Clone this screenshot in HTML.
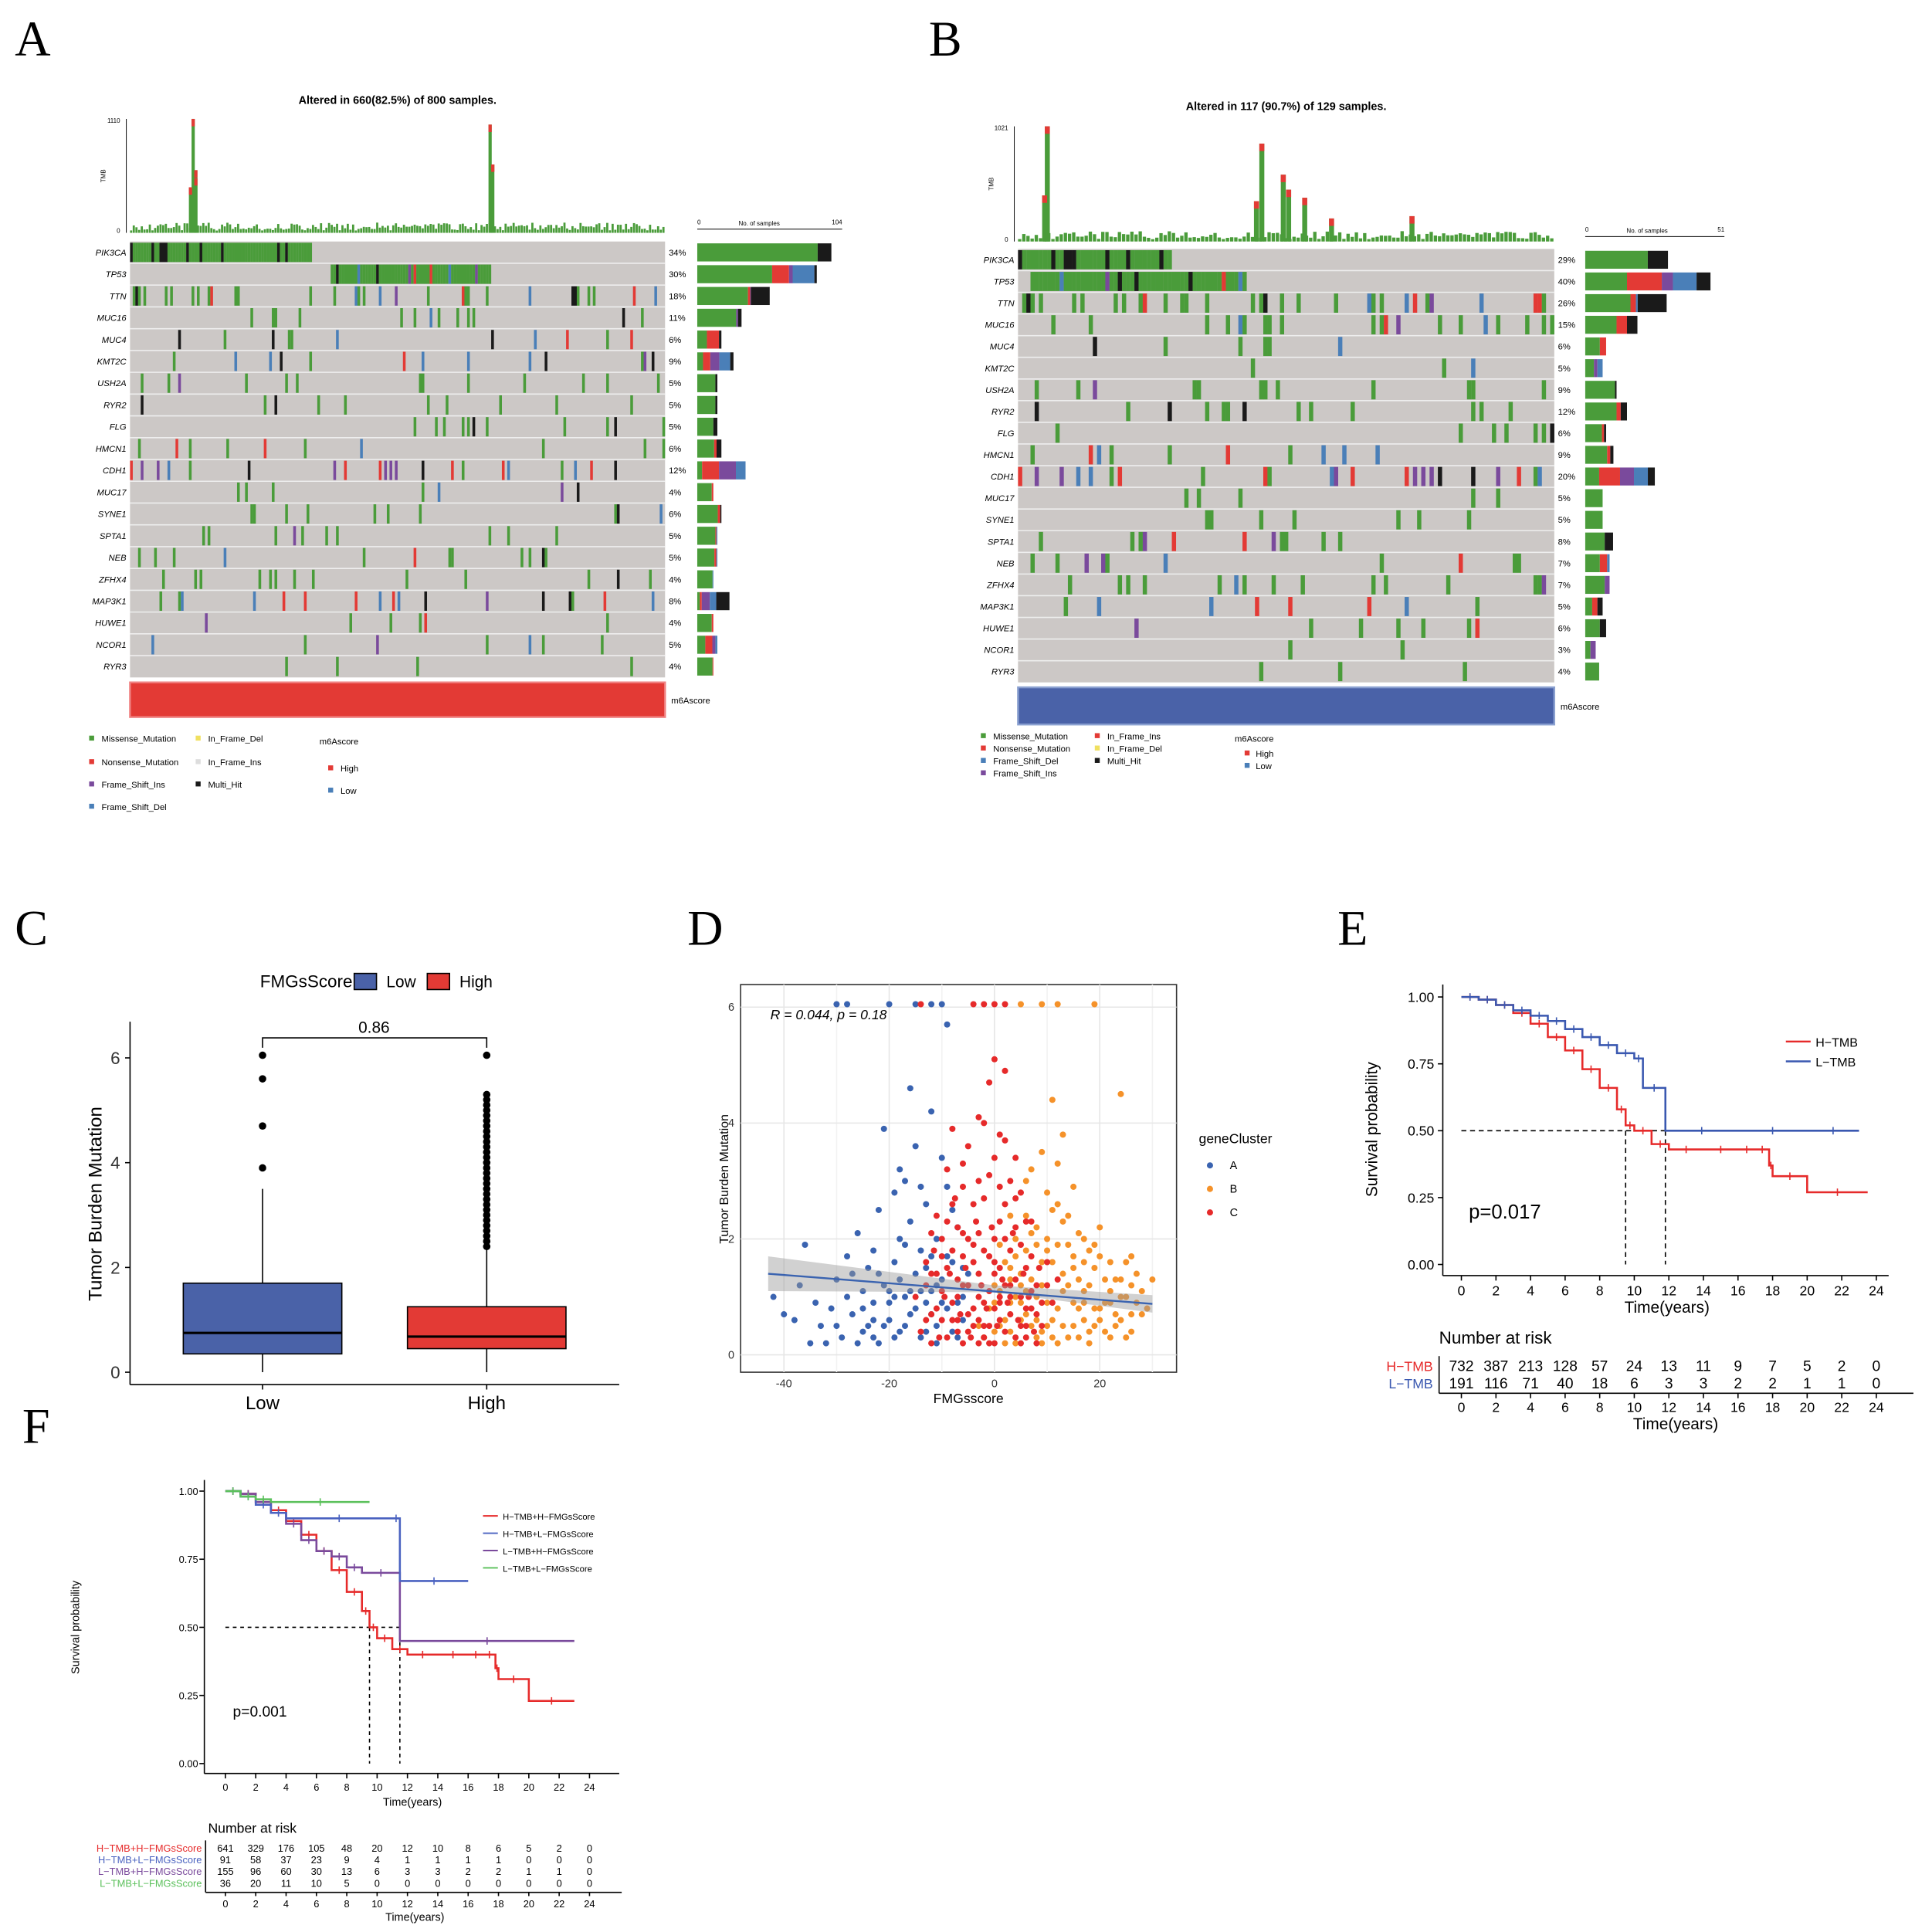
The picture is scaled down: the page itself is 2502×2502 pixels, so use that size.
<!DOCTYPE html>
<html><head><meta charset="utf-8">
<style>
html,body{margin:0;padding:0;background:#fff;}
svg{display:block;font-family:"Liberation Sans",sans-serif;}
.pl{font-family:"Liberation Serif",serif;font-size:40px;}
</style></head>
<body>
<svg id="fig" width="2502" height="2502" viewBox="0 0 1560 1560" xmlns="http://www.w3.org/2000/svg">
<text class="pl" x="12" y="45">A</text>
<text class="pl" x="750" y="45">B</text>
<text class="pl" x="12" y="763">C</text>
<text class="pl" x="555" y="763">D</text>
<text class="pl" x="1080" y="763">E</text>
<text class="pl" x="18" y="1165">F</text>
<g id="gA"></g>
<g id="gB"></g>
<g id="gC"></g>
<g id="gD"></g>
<g id="gE"></g>
<g id="gF"></g>
</svg>
<script>
const NS="http://www.w3.org/2000/svg";
function mk(p,tag,at,txt){const e=document.createElementNS(NS,tag);for(const k in at)e.setAttribute(k,at[k]);if(txt!==undefined)e.textContent=txt;p.appendChild(e);return e;}

// ===== Oncoplot data =====
const genesA=["PIK3CA","TP53","TTN","MUC16","MUC4","KMT2C","USH2A","RYR2","FLG","HMCN1","CDH1","MUC17","SYNE1","SPTA1","NEB","ZFHX4","MAP3K1","HUWE1","NCOR1","RYR3"];
const pctA=[34,30,18,11,6,9,5,5,5,6,12,4,6,5,5,4,8,4,5,4];
const genesB=["PIK3CA","TP53","TTN","MUC16","MUC4","KMT2C","USH2A","RYR2","FLG","HMCN1","CDH1","MUC17","SYNE1","SPTA1","NEB","ZFHX4","MAP3K1","HUWE1","NCOR1","RYR3"];
const pctB=[29,40,26,15,6,5,9,12,6,9,20,5,5,8,7,7,5,6,3,4];
const COL={g:"#4a9c3a",r:"#e33a35",b:"#4a7fb8",p:"#7a4a9c",k:"#1a1a1a",y:"#f0e060"};
const compA=[[.88,0,0,0,.1],[.62,.14,.03,.18,.02],[.7,.03,.01,0,.26],[.88,0,.04,0,.08],[.4,.5,0,0,.1],[.16,.2,.25,.3,.09],[.9,0,0,0,.1],[.9,0,0,0,.1],[.8,0,0,0,.2],[.7,.1,0,0,.2],[.1,.35,.35,.2,0],[.9,.1,0,0,0],[.85,.1,0,0,.05],[.9,.05,0,.05,0],[.85,.1,0,.05,0],[.95,0,0,.05,0],[.08,.06,.25,.2,.41],[.9,.1,0,0,0],[.4,.35,.15,.1,0],[.95,.05,0,0,0]];
const compB=[[.62,0,0,0,.2],[.3,.25,.08,.17,.1],[.5,.06,0,.02,.32],[.6,.2,0,0,.2],[.7,.3,0,0,0],[.5,0,.2,.3,0],[.95,0,0,0,.05],[.75,.1,0,0,.15],[.8,.1,0,0,.1],[.7,.1,0,0,.1],[.2,.3,.2,.2,.1],[1,0,0,0,0],[1,0,0,0,0],[.7,0,0,0,.3],[.6,.3,0,.1,0],[.8,0,.2,0,0],[.4,.3,0,0,.3],[.7,0,0,0,.3],[.5,0,.5,0,0],[1,0,0,0,0]];
const tmbSpikesA=[[0.115,100],[0.12,55],[0.11,40],[0.67,95],[0.675,60],[0.12,48]];
const tmbSpikesB=[[0.05,100],[0.045,40],[0.45,85],[0.49,58],[0.5,45],[0.44,35],[0.53,38],[0.58,20],[0.73,22]];

function hsh(a,b){let x=(a*73856093)^(b*19349663);x=(x^(x>>>13))*1274126177;x=x^(x>>>16);return ((x>>>0)%10000)/10000;}

function onco(gid,genes,pct,comp,o){
 const g=document.getElementById(gid);
 const ncol=o.ncol,cw=(o.x1-o.x0)/ncol,rh=(o.y1-o.y0)/genes.length;
 mk(g,"text",{x:(o.x0+o.x1)/2,y:o.ty,"font-size":9,"font-weight":"bold","text-anchor":"middle"},o.title);
 mk(g,"line",{x1:o.x0-3,y1:o.tb0,x2:o.x0-3,y2:o.tb1,stroke:"#000","stroke-width":.6});
 mk(g,"text",{x:o.x0-8,y:o.tb0+3,"font-size":5,"text-anchor":"end"},o.tmax);
 mk(g,"text",{x:o.x0-8,y:o.tb1,"font-size":5,"text-anchor":"end"},"0");
 mk(g,"text",{x:o.x0-20,y:(o.tb0+o.tb1)/2,"font-size":5,transform:`rotate(-90 ${o.x0-20} ${(o.tb0+o.tb1)/2})`,"text-anchor":"middle"},"TMB");
 const th=o.tb1-o.tb0;
 for(let j=0;j<ncol;j++){
  const h=th*(0.02+0.07*hsh(j,99));
  mk(g,"rect",{x:o.x0+j*cw,y:o.tb1-h,width:cw*0.8,height:h,fill:COL.g});
 }
 o.spikes.forEach(s=>{
  const h=th*s[1]/100;const sp=mk(g,"rect",{x:o.x0+s[0]*(o.x1-o.x0),y:o.tb1-h,width:cw*1.2,height:h,fill:COL.g});
  
  mk(g,"rect",{x:o.x0+s[0]*(o.x1-o.x0),y:o.tb1-h,width:cw*1.2,height:Math.min(6,h),fill:COL.r});
 });
 mk(g,"rect",{x:o.x0,y:o.y0,width:o.x1-o.x0,height:o.y1-o.y0,fill:"#ccc8c6"});
 genes.forEach((gn,i)=>{
  const y=o.y0+i*rh;
  const f=pct[i]/100;
  const cols=["g","g","g","g","r","b","p","k","g","g"];
  for(let j=0;j<ncol;j++){
   let on=false,c="g";
   if(i<2){const s=i==0?0:o.blk;const e=s+Math.round(f*ncol);on=j>=s&&j<e;c=hsh(i,j)<0.2?(i==0?"k":cols[Math.floor(hsh(j,i)*10)]):"g";}
   else {on=hsh(i+7,j+3)<f*0.9;c=hsh(j,i+5)<comp[i][0]?"g":cols[4+Math.floor(hsh(i,j+11)*4)];}
   if(on){const r=mk(g,"rect",{x:o.x0+j*cw,y:y+1,width:cw*1.02,height:rh-2,fill:COL[c]});
    
    }
  }
  if(i>0)mk(g,"line",{x1:o.x0,y1:y,x2:o.x1,y2:y,stroke:"#eee","stroke-width":1});
  const lab=mk(g,"text",{x:o.x0-3,y:y+rh/2+2.5,"font-size":7,"font-style":"italic","text-anchor":"end"},gn);
  
  
  mk(g,"text",{x:o.x1+3,y:y+rh/2+2.5,"font-size":7},pct[i]+"%");
  let bx=o.sx0;const bw=(o.sx1-o.sx0)*pct[i]/o.pmax;
  ["g","r","p","b","k"].forEach((k,q)=>{const w=bw*comp[i][q];if(w>0){const b=mk(g,"rect",{x:bx,y:y+1.5,width:w,height:rh-3,fill:COL[k]});
   
   bx+=w;}});
 });
 mk(g,"line",{x1:o.sx0,y1:o.y0-10,x2:o.sx0+(o.sx1-o.sx0)*o.axmax/o.pmax,y2:o.y0-10,stroke:"#000","stroke-width":.6});
 mk(g,"text",{x:o.sx0,y:o.y0-14,"font-size":5},"0");
 mk(g,"text",{x:o.sx0+(o.sx1-o.sx0)*o.axmax/o.pmax,y:o.y0-14,"font-size":5,"text-anchor":"end"},o.axlab);
 mk(g,"text",{x:o.sx0+50,y:o.y0-13,"font-size":5,"text-anchor":"middle"},"No. of samples");
 const sb=mk(g,"rect",{x:o.x0,y:o.y1+4,width:o.x1-o.x0,height:o.sbh,fill:o.sbc,stroke:o.sbc==="#e33a35"?"#f08080":"#8aa0d0","stroke-width":1.5});
 
 mk(g,"text",{x:o.x1+5,y:o.y1+4+o.sbh/2+3,"font-size":7},"m6Ascore");
}
onco("gA",genesA,pctA,compA,{x0:105,x1:537,y0:195,y1:547,ncol:200,blk:75,title:"Altered in 660(82.5%) of 800 samples.",ty:84,tb0:96,tb1:188,tmax:"1110",spikes:tmbSpikesA,sx0:563,sx1:680,pmax:36,axmax:36,axlab:"104",sbh:28,sbc:"#e33a35"});
onco("gB",genesB,pctB,compB,{x0:822,x1:1255,y0:201,y1:551,ncol:129,blk:3,title:"Altered in 117 (90.7%) of 129 samples.",ty:89,tb0:102,tb1:195,tmax:"1021",spikes:tmbSpikesB,sx0:1280,sx1:1398,pmax:42,axmax:40,axlab:"51",sbh:30,sbc:"#4a62a8"});

(function(){
 const g=document.getElementById("gA");
 const L=[["Missense_Mutation",COL.g,72,598],["Nonsense_Mutation",COL.r,72,617],["Frame_Shift_Ins",COL.p,72,635],["Frame_Shift_Del",COL.b,72,653],["In_Frame_Del",COL.y,158,598],["In_Frame_Ins","#ddd",158,617],["Multi_Hit",COL.k,158,635]];
 L.forEach(l=>{const e=mk(g,"rect",{x:l[2],y:l[3]-4,width:4,height:4,fill:l[1]});mk(g,"text",{x:l[2]+10,y:l[3]+1,"font-size":7},l[0]);});
 mk(g,"text",{x:258,y:601,"font-size":7},"m6Ascore");
 mk(g,"rect",{x:265,y:618,width:4,height:4,fill:COL.r});mk(g,"text",{x:275,y:623,"font-size":7},"High");
 mk(g,"rect",{x:265,y:636,width:4,height:4,fill:COL.b});mk(g,"text",{x:275,y:641,"font-size":7},"Low");
 const h=document.getElementById("gB");
 const M=[["Missense_Mutation",COL.g,792,596],["Nonsense_Mutation",COL.r,792,606],["Frame_Shift_Del",COL.b,792,616],["Frame_Shift_Ins",COL.p,792,626],["In_Frame_Ins",COL.r,884,596],["In_Frame_Del",COL.y,884,606],["Multi_Hit",COL.k,884,616]];
 M.forEach(l=>{const e=mk(h,"rect",{x:l[2],y:l[3]-4,width:4,height:4,fill:l[1]});mk(h,"text",{x:l[2]+10,y:l[3]+1,"font-size":7},l[0]);});
 mk(h,"text",{x:997,y:599,"font-size":7},"m6Ascore");
 mk(h,"rect",{x:1005,y:606,width:4,height:4,fill:COL.r});mk(h,"text",{x:1014,y:611,"font-size":7},"High");
 mk(h,"rect",{x:1005,y:616,width:4,height:4,fill:COL.b});mk(h,"text",{x:1014,y:621,"font-size":7},"Low");
})();

// ===== Panel C boxplot =====
const boxCats=["Low","High"];
const boxQ1=[0.35,0.45], boxMed=[0.75,0.68], boxQ3=[1.7,1.25], boxWlo=[0,0], boxWhi=[3.5,2.35];
const outLow=[3.9,4.7,5.6,6.05];
const outHigh=[2.4,2.5,2.6,2.7,2.8,2.9,3.0,3.1,3.2,3.3,3.4,3.5,3.6,3.7,3.8,3.9,4.0,4.1,4.2,4.3,4.4,4.5,4.6,4.7,4.8,4.9,5.0,5.1,5.2,5.3,6.05];
const pC="0.86";
(function(){
 const g=document.getElementById("gC");
 const X0=105,X1=500,Y0=825,Y1=1118;
 const ys=v=>1108-v*42.3, xs=i=>[212,393][i];
 mk(g,"line",{x1:X0,y1:Y0,x2:X0,y2:Y1,stroke:"#000","stroke-width":1});
 mk(g,"line",{x1:X0,y1:Y1,x2:X1,y2:Y1,stroke:"#000","stroke-width":1});
 [0,2,4,6].forEach(t=>{mk(g,"line",{x1:X0-4,y1:ys(t),x2:X0,y2:ys(t),stroke:"#000"});mk(g,"text",{x:X0-8,y:ys(t)+5,"font-size":14,"text-anchor":"end",fill:"#333"},t);});
 mk(g,"text",{x:82,y:972,"font-size":15,"text-anchor":"middle",transform:"rotate(-90 82 972)"},"Tumor Burden Mutation");
 const fills=["#4a62a8","#e33a35"];
 boxCats.forEach((c,i)=>{
  const x=xs(i);
  mk(g,"line",{x1:x,y1:ys(boxWhi[i]),x2:x,y2:ys(boxWlo[i]),stroke:"#000"});
  const b=mk(g,"rect",{x:x-64,y:ys(boxQ3[i]),width:128,height:ys(boxQ1[i])-ys(boxQ3[i]),fill:fills[i],stroke:"#000","stroke-width":1});
  
  
  mk(g,"line",{x1:x-64,y1:ys(boxMed[i]),x2:x+64,y2:ys(boxMed[i]),stroke:"#000","stroke-width":2});
  (i?outHigh:outLow).forEach(v=>{const d=mk(g,"circle",{cx:x,cy:ys(v),r:3,fill:"#000"});});
  mk(g,"line",{x1:x,y1:Y1,x2:x,y2:Y1+4,stroke:"#000"});
  mk(g,"text",{x:x,y:1138,"font-size":15,"text-anchor":"middle"},c);
 });
 mk(g,"path",{d:`M212 846 V838 H393 V846`,fill:"none",stroke:"#000"});
 mk(g,"text",{x:302,y:834,"font-size":13,"text-anchor":"middle"},pC);
 mk(g,"text",{x:210,y:797,"font-size":14},"FMGsScore");
 mk(g,"rect",{x:286,y:786,width:18,height:13,fill:"#4a62a8",stroke:"#000"});mk(g,"text",{x:312,y:797,"font-size":13},"Low");
 mk(g,"rect",{x:345,y:786,width:18,height:13,fill:"#e33a35",stroke:"#000"});mk(g,"text",{x:371,y:797,"font-size":13},"High");
})();

// ===== Panel D scatter =====
const ptsA=[[-42,1.0],[-38,0.6],[-36,1.9],[-35,0.2],[-33,0.5],[-31,0.8],[-30,1.3],[-29,0.3],[-28,1.0],[-27,0.7],[-26,2.1],[-25,0.4],[-24,1.5],[-23,0.9],[-22,0.2],[-21,3.9],[-21,1.2],[-20,0.6],[-19,2.8],[-19,1.6],[-18,0.4],[-18,3.2],[-17,1.0],[-16,2.3],[-16,0.7],[-15,1.4],[-15,3.6],[-14,0.3],[-14,1.8],[-13,2.6],[-13,0.9],[-12,4.2],[-12,1.1],[-11,0.5],[-11,2.0],[-10,1.3],[-10,3.4],[-9,0.8],[-9,5.7],[-8,1.6],[-8,0.4],[-7,2.2],[-6,1.0],[-6,0.6],[-5,1.4],[-20,0.9],[-24,0.5],[-30,6.05],[-28,6.05],[-20,6.05],[-15,6.05],[-12,6.05],[-10,6.05],[-16,4.6],[-26,0.2],[-17,1.9],[-22,1.4],[-14,1.1],[-19,0.3],[-23,1.8],[-25,1.1],[-9,1.7],[-11,0.2],[-13,1.5],[-7,0.9],[-18,1.3],[-16,1.1],[-12,0.7],[-21,0.5],[-8,2.5],
[-40,0.7],[-37,1.2],[-34,0.9],[-32,0.2],[-30,0.5],[-27,1.4],[-25,0.8],[-23,0.3],[-22,2.5],[-20,1.1],[-18,2.0],[-17,0.5],[-15,0.8],[-13,0.4],[-12,1.7],[-10,0.9],[-9,2.9],[-7,0.3],[-6,1.5],[-14,2.9],[-17,3.0],[-11,1.2],[-23,0.6],[-28,1.7],[-19,1.0]];
const ptsB=[[-2,0.3],[-1,0.8],[0,1.2],[1,0.5],[2,1.6],[3,0.9],[4,0.2],[5,1.4],[6,0.7],[7,2.1],[8,1.0],[9,0.4],[10,1.8],[11,0.6],[12,2.6],[13,1.1],[14,0.3],[15,1.5],[16,0.8],[17,2.0],[18,1.2],[19,0.5],[20,1.7],[21,0.9],[22,0.3],[23,1.3],[24,0.6],[25,1.0],[26,0.4],[27,0.9],[30,1.3],[28,0.7],[3,2.4],[6,3.0],[9,3.5],[11,4.4],[12,3.3],[15,2.9],[24,4.5],[5,0.6],[8,0.3],[10,0.9],[13,0.5],[16,1.3],[18,0.4],[20,0.8],[22,1.1],[7,1.3],[4,1.0],[2,0.6],[14,1.9],[17,0.6],[19,1.5],[21,0.4],[1,1.9],[-3,0.5],[0,0.4],[6,1.8],[12,0.2],[9,1.2],[15,0.9],[23,0.7],[25,1.6],[11,1.6],[8,2.2],[13,2.3],[26,1.2],[5,6.05],[9,6.05],[12,6.05],[19,6.05],[3,1.5],[17,1.6],[10,0.5],
[0,0.9],[2,0.2],[4,1.7],[6,1.1],[8,0.6],[10,2.0],[12,0.8],[14,1.2],[16,0.3],[18,1.8],[20,0.6],[22,1.6],[24,1.0],[26,0.7],[28,1.1],[1,1.1],[3,0.4],[5,1.2],[7,0.5],[9,1.6],[11,0.3],[13,1.4],[15,0.5],[17,1.1],[19,0.8],[21,1.3],[23,0.5],[25,0.3],[27,1.4],[29,0.8],[6,2.4],[10,2.8],[14,2.4],[8,1.9],[12,1.9],[16,2.1],[20,2.2],[4,2.0],[18,0.2],[22,0.9],[7,3.2],[13,3.8],[11,2.5],[15,1.7],[9,0.2],[17,0.9],[19,1.9],[5,0.9],[3,1.3],[24,1.3],[26,1.7]];
const ptsC=[[-15,1.0],[-14,0.4],[-13,1.6],[-12,0.7],[-11,2.4],[-10,1.1],[-9,0.3],[-8,1.8],[-7,0.6],[-6,2.9],[-5,1.2],[-4,0.5],[-3,2.1],[-2,0.9],[-1,3.1],[0,1.4],[1,0.6],[2,2.6],[3,1.0],[4,0.3],[5,1.9],[6,0.8],[7,2.3],[8,1.2],[9,0.5],[10,1.6],[11,0.9],[12,1.3],[-5,3.6],[-3,4.1],[0,5.1],[2,4.9],[4,3.4],[-8,3.9],[-1,4.7],[1,3.8],[-6,0.2],[-4,1.6],[-2,0.3],[0,2.0],[2,1.2],[4,2.2],[-10,2.0],[-12,1.4],[-7,1.3],[-3,1.0],[-1,1.7],[1,1.0],[3,1.8],[5,0.5],[7,1.1],[-9,1.5],[-5,0.7],[-2,2.7],[3,3.0],[6,1.5],[8,0.7],[-11,0.8],[-13,1.2],[-4,2.6],[0,0.2],[5,2.8],[-6,1.7],[-14,6.05],[-4,6.05],[-2,6.05],[0,6.05],[2,6.05],[-8,2.6],[-1,0.5],[1,2.3],[6,0.3],[-7,2.2],[-3,0.6],
[-12,0.2],[-11,1.4],[-10,0.6],[-9,2.3],[-8,0.9],[-7,0.4],[-6,1.2],[-5,2.0],[-4,0.8],[-3,1.4],[-2,0.5],[-1,1.1],[0,0.8],[1,1.5],[2,0.4],[3,0.7],[4,1.3],[5,1.0],[6,0.5],[7,1.7],[8,0.2],[9,0.9],[10,1.2],[-11.5,1.8],[-10.5,0.3],[-9.5,1.0],[-8.5,1.4],[-7.5,2.7],[-6.5,0.7],[-5.5,1.5],[-4.5,0.3],[-3.5,2.3],[-2.5,1.2],[-1.5,0.8],[-0.5,2.2],[0.5,0.5],[1.5,1.3],[2.5,0.9],[3.5,2.1],[4.5,0.6],[5.5,1.4],[6.5,1.0],[7.5,0.4],[8.5,1.5],[-6,3.3],[-3,3.0],[1,2.9],[4,2.7],[-9,3.2],[0,3.4],[-7,1.0],[-5,0.4],[-2,1.8],[2,2.0],[-4,1.9],[3,1.2],[-1,0.2],[5,0.2],[-8,0.6],[6,2.3],[-10,1.7],[-12,2.1],[-13,0.6],[7,0.8],[-3,0.2],[1,0.9],[-6,2.1],[0,1.6],[2,3.7],[-2,4.0]];
const regX=[-43,30], regY=[1.4,0.88];
const corText="R = 0.044, p = 0.18";
(function(){
 const g=document.getElementById("gD");
 const X0=598,X1=950,Y0=795,Y1=1108;
 const xs=v=>633+(v+40)*4.25, ys=v=>1094-v*46.8;
 mk(g,"rect",{x:X0,y:Y0,width:X1-X0,height:Y1-Y0,fill:"#fff",stroke:"#333","stroke-width":1});
 [-40,-20,0,20].forEach(t=>{mk(g,"line",{x1:xs(t),y1:Y0,x2:xs(t),y2:Y1,stroke:"#e6e6e6"});mk(g,"text",{x:xs(t),y:Y1+12,"font-size":9,"text-anchor":"middle",fill:"#333"},t);});
 [-30,-10,10,30].forEach(t=>mk(g,"line",{x1:xs(t),y1:Y0,x2:xs(t),y2:Y1,stroke:"#f2f2f2"}));
 [0,2,4,6].forEach(t=>{mk(g,"line",{x1:X0,y1:ys(t),x2:X1,y2:ys(t),stroke:"#e6e6e6"});mk(g,"text",{x:X0-5,y:ys(t)+3,"font-size":9,"text-anchor":"end",fill:"#333"},t);});
 mk(g,"text",{x:588,y:952,"font-size":10,"text-anchor":"middle",transform:"rotate(-90 588 952)"},"Tumor Burden Mutation");
 mk(g,"text",{x:782,y:1133,"font-size":11,"text-anchor":"middle"},"FMGsscore");
 [[ptsB,"#f5922a"],[ptsA,"#3a63b0"],[ptsC,"#e62a2a"]].forEach(s=>s[0].forEach(p=>{const c=mk(g,"circle",{cx:xs(p[0]),cy:ys(p[1]),r:2.5,fill:s[1]});}));
 const x0=xs(regX[0]),x1=xs(regX[1]);
 mk(g,"path",{d:`M${x0} ${ys(regY[0]+0.3)} L${xs(0)} ${ys(1.14+0.06)} L${x1} ${ys(regY[1]+0.15)} L${x1} ${ys(regY[1]-0.15)} L${xs(0)} ${ys(1.14-0.06)} L${x0} ${ys(regY[0]-0.3)}Z`,fill:"#999","fill-opacity":0.45});
 mk(g,"line",{x1:x0,y1:ys(regY[0]),x2:x1,y2:ys(regY[1]),stroke:"#3a63b0","stroke-width":1.5});
 mk(g,"text",{x:622,y:823,"font-size":11,"font-style":"italic"},corText);
 mk(g,"text",{x:968,y:923,"font-size":11},"geneCluster");
 [["A","#3a63b0",941],["B","#f5922a",960],["C","#e62a2a",979]].forEach(l=>{mk(g,"circle",{cx:977,cy:l[2],r:2.5,fill:l[1]});mk(g,"text",{x:993,y:l[2]+3,"font-size":9},l[0]);});
})();

// ===== KM curves =====
const timeE_H=[0,1,2,3,4,5,6,7,8,9,9.5,10,11,12,14,16,17,17.8,18,20,23.5];
const survE_H=[1,0.99,0.97,0.94,0.9,0.85,0.8,0.73,0.66,0.58,0.52,0.5,0.45,0.43,0.43,0.43,0.43,0.37,0.33,0.27,0.27];
const timeE_L=[0,1,2,3,4,5,6,7,8,9,10,10.5,11.8,16,20,23];
const survE_L=[1,0.99,0.97,0.95,0.93,0.91,0.88,0.85,0.82,0.79,0.77,0.66,0.5,0.5,0.5,0.5];
const riskE_H=[732,387,213,128,57,24,13,11,9,7,5,2,0];
const riskE_L=[191,116,71,40,18,6,3,3,2,2,1,1,0];
const timeF1=[0,1,2,3,4,5,6,7,8,9,9.5,10,11,12,14,16,17,17.8,18,20,23];
const survF1=[1,0.99,0.96,0.93,0.89,0.84,0.78,0.71,0.63,0.56,0.5,0.46,0.42,0.4,0.4,0.4,0.4,0.35,0.31,0.23,0.23];
const timeF2=[0,1,2,3,4,11,11.5,16];
const survF2=[1,0.98,0.95,0.92,0.9,0.9,0.67,0.67];
const timeF3=[0,1,2,3,4,5,6,7,8,9,11.5,23];
const survF3=[1,0.99,0.96,0.92,0.88,0.82,0.78,0.76,0.72,0.7,0.45,0.45];
const timeF4=[0,1,2,3,9.5];
const survF4=[1,0.98,0.97,0.96,0.96];
const riskF=[[641,329,176,105,48,20,12,10,8,6,5,2,0],[91,58,37,23,9,4,1,1,1,1,0,0,0],[155,96,60,30,13,6,3,3,2,2,1,1,0],[36,20,11,10,5,0,0,0,0,0,0,0,0]];
function km(g,xs,ys,t,s,col,name){
 let d=`M${xs(t[0])} ${ys(s[0])}`;
 for(let i=1;i<t.length;i++)d+=` H${xs(t[i])} V${ys(s[i])}`;
 const p=mk(g,"path",{d:d,fill:"none",stroke:col,"stroke-width":1.6});
 
 
 for(let i=1;i<t.length;i++){const c=xs((t[i-1]+t[i])/2),y=ys(s[i-1]);mk(g,"line",{x1:c,y1:y-3,x2:c,y2:y+3,stroke:col,"stroke-width":1});}
}
(function(){
 const g=document.getElementById("gE");
 const xs=v=>1180+v*13.96, ys=v=>1021-v*216;
 mk(g,"line",{x1:1165,y1:795,x2:1165,y2:1030,stroke:"#000"});
 mk(g,"line",{x1:1165,y1:1030,x2:1525,y2:1030,stroke:"#000"});
 [0,0.25,0.5,0.75,1].forEach(v=>{mk(g,"line",{x1:1161,y1:ys(v),x2:1165,y2:ys(v),stroke:"#000"});mk(g,"text",{x:1158,y:ys(v)+4,"font-size":11,"text-anchor":"end"},v.toFixed(2));});
 for(let t=0;t<=24;t+=2){mk(g,"line",{x1:xs(t),y1:1030,x2:xs(t),y2:1034,stroke:"#000"});mk(g,"text",{x:xs(t),y:1046,"font-size":11,"text-anchor":"middle"},t);}
 mk(g,"text",{x:1346,y:1060,"font-size":13,"text-anchor":"middle"},"Time(years)");
 mk(g,"text",{x:1112,y:912,"font-size":13,"text-anchor":"middle",transform:"rotate(-90 1112 912)"},"Survival probability");
 mk(g,"path",{d:`M${xs(0)} ${ys(.5)} H${xs(11.8)} M${xs(9.5)} ${ys(.5)} V${ys(0)} M${xs(11.8)} ${ys(.5)} V${ys(0)}`,stroke:"#000","stroke-dasharray":"4 3",fill:"none"});
 km(g,xs,ys,timeE_H,survE_H,"#e62a2a","km-h-tmb");
 km(g,xs,ys,timeE_L,survE_L,"#3a58b0","km-l-tmb");
 mk(g,"text",{x:1186,y:984,"font-size":16},"p=0.017");
 mk(g,"line",{x1:1442,y1:841,x2:1462,y2:841,stroke:"#e62a2a","stroke-width":1.5});mk(g,"text",{x:1466,y:845,"font-size":10},"H−TMB");
 mk(g,"line",{x1:1442,y1:857,x2:1462,y2:857,stroke:"#3a58b0","stroke-width":1.5});mk(g,"text",{x:1466,y:861,"font-size":10},"L−TMB");
 mk(g,"text",{x:1162,y:1085,"font-size":14},"Number at risk");
 mk(g,"text",{x:1157,y:1107,"font-size":11,"text-anchor":"end",fill:"#e62a2a"},"H−TMB");
 mk(g,"text",{x:1157,y:1121,"font-size":11,"text-anchor":"end",fill:"#3a58b0"},"L−TMB");
 mk(g,"line",{x1:1162,y1:1095,x2:1162,y2:1125,stroke:"#000"});
 mk(g,"line",{x1:1162,y1:1125,x2:1545,y2:1125,stroke:"#000"});
 riskE_H.forEach((v,i)=>mk(g,"text",{x:xs(i*2),y:1107,"font-size":12,"text-anchor":"middle"},v));
 riskE_L.forEach((v,i)=>mk(g,"text",{x:xs(i*2),y:1121,"font-size":12,"text-anchor":"middle"},v));
 for(let t=0;t<=24;t+=2){mk(g,"line",{x1:xs(t),y1:1125,x2:xs(t),y2:1129,stroke:"#000"});mk(g,"text",{x:xs(t),y:1140,"font-size":11,"text-anchor":"middle"},t);}
 mk(g,"text",{x:1353,y:1154,"font-size":13,"text-anchor":"middle"},"Time(years)");
})();
(function(){
 const g=document.getElementById("gF");
 const xs=v=>182+v*12.25, ys=v=>1424-v*220;
 mk(g,"line",{x1:165,y1:1195,x2:165,y2:1432,stroke:"#000"});
 mk(g,"line",{x1:165,y1:1432,x2:500,y2:1432,stroke:"#000"});
 [0,0.25,0.5,0.75,1].forEach(v=>{mk(g,"line",{x1:161,y1:ys(v),x2:165,y2:ys(v),stroke:"#000"});mk(g,"text",{x:160,y:ys(v)+3,"font-size":8,"text-anchor":"end"},v.toFixed(2));});
 for(let t=0;t<=24;t+=2){mk(g,"line",{x1:xs(t),y1:1432,x2:xs(t),y2:1436,stroke:"#000"});mk(g,"text",{x:xs(t),y:1446,"font-size":8,"text-anchor":"middle"},t);}
 mk(g,"text",{x:333,y:1458,"font-size":9,"text-anchor":"middle"},"Time(years)");
 mk(g,"text",{x:64,y:1314,"font-size":9,"text-anchor":"middle",transform:"rotate(-90 64 1314)"},"Survival probability");
 mk(g,"path",{d:`M${xs(0)} ${ys(.5)} H${xs(11.5)} M${xs(9.5)} ${ys(.5)} V${ys(0)} M${xs(11.5)} ${ys(.5)} V${ys(0)}`,stroke:"#000","stroke-dasharray":"3 3",fill:"none"});
 km(g,xs,ys,timeF1,survF1,"#e62a2a","km-hh");
 km(g,xs,ys,timeF3,survF3,"#7a4a9c","km-lh");
 km(g,xs,ys,timeF2,survF2,"#4a62c0","km-hl");
 km(g,xs,ys,timeF4,survF4,"#5ac05a","km-ll");
 mk(g,"text",{x:188,y:1386,"font-size":12},"p=0.001");
 const labs=[["H−TMB+H−FMGsScore","#e62a2a"],["H−TMB+L−FMGsScore","#4a62c0"],["L−TMB+H−FMGsScore","#7a4a9c"],["L−TMB+L−FMGsScore","#5ac05a"]];
 labs.forEach((l,i)=>{const y=1224+i*14;mk(g,"line",{x1:390,y1:y,x2:402,y2:y,stroke:l[1],"stroke-width":1.2});mk(g,"text",{x:406,y:y+3,"font-size":7},l[0]);});
 mk(g,"text",{x:168,y:1480,"font-size":11},"Number at risk");
 mk(g,"line",{x1:166,y1:1486,x2:166,y2:1528,stroke:"#000"});
 mk(g,"line",{x1:166,y1:1528,x2:502,y2:1528,stroke:"#000"});
 labs.forEach((l,i)=>{const y=1495+i*9.5;mk(g,"text",{x:163,y:y,"font-size":8,"text-anchor":"end",fill:l[1]},l[0]);
  riskF[i].forEach((v,k)=>mk(g,"text",{x:xs(k*2),y:y,"font-size":8,"text-anchor":"middle"},v));});
 for(let t=0;t<=24;t+=2){mk(g,"line",{x1:xs(t),y1:1528,x2:xs(t),y2:1531,stroke:"#000"});mk(g,"text",{x:xs(t),y:1540,"font-size":8,"text-anchor":"middle"},t);}
 mk(g,"text",{x:335,y:1551,"font-size":9,"text-anchor":"middle"},"Time(years)");
})();
</script>
</body></html>
